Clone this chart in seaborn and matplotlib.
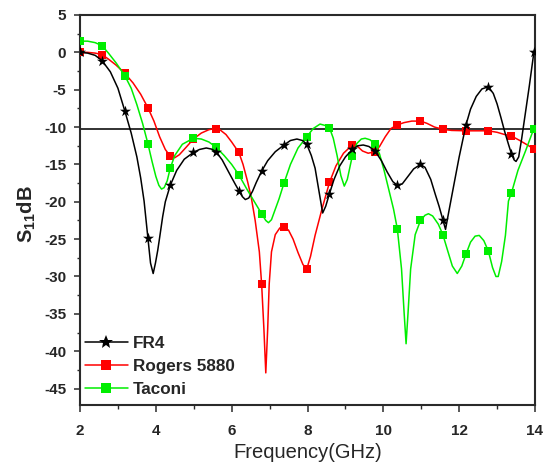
import numpy as np
import pandas as pd
import matplotlib
matplotlib.use("Agg")
import matplotlib.pyplot as plt
from matplotlib.lines import Line2D
from matplotlib.ticker import MultipleLocator
import seaborn as sns

# ---------------- data ----------------
fr4_f = [2.0, 2.2, 2.4, 2.58, 2.8, 3.0, 3.18, 3.35, 3.5, 3.6, 3.69, 3.79, 3.86, 3.93, 3.99,
         4.05, 4.1, 4.18, 4.25, 4.38, 4.55, 4.75, 4.99, 5.15, 5.33, 5.47, 5.59, 5.75, 5.95,
         6.1, 6.19, 6.28, 6.36, 6.45, 6.55, 6.65, 6.79, 6.95, 7.15, 7.38, 7.55, 7.72, 7.87,
         7.98, 8.1, 8.2, 8.3, 8.4, 8.48, 8.58, 8.7, 8.85, 9.0, 9.18, 9.33, 9.47, 9.62, 9.78,
         9.95, 10.1, 10.25, 10.37, 10.5, 10.65, 10.8, 10.98, 11.1, 11.25, 11.37, 11.47, 11.57,
         11.64, 11.72, 11.85, 12.0, 12.18, 12.3, 12.45, 12.6, 12.77, 12.9, 13.0, 13.1, 13.2,
         13.3, 13.38, 13.45, 13.5, 13.57, 13.65, 13.75, 13.85, 13.97]
fr4_db = [0.0, -0.1, -0.4, -1.1, -2.6, -4.8, -7.8, -10.8, -14.0, -16.8, -19.9, -24.8, -28.2,
          -29.6, -28.2, -26.5, -24.8, -22.0, -20.0, -17.8, -15.8, -14.3, -13.4, -13.0, -12.8,
          -12.95, -13.3, -14.4, -16.3, -17.7, -18.5, -19.3, -19.7, -19.5, -18.6, -17.4, -15.9,
          -14.5, -13.3, -12.4, -11.8, -11.6, -11.8, -12.3, -13.8, -15.5, -18.5, -21.5, -20.6,
          -18.9, -17.0, -15.2, -14.0, -13.0, -12.5, -12.4, -12.6, -13.2, -14.5, -16.0, -17.3,
          -17.8, -17.6, -16.6, -15.6, -15.0, -15.4, -17.0, -19.0, -20.6, -22.4, -23.7, -21.5,
          -18.0, -14.0, -9.7, -7.6, -5.9, -4.9, -4.6, -5.5, -6.9, -8.7, -10.6, -12.3, -13.6,
          -14.4, -14.6, -14.0, -11.5, -8.0, -4.5, 0.0]

rog_f = [2.0, 2.2, 2.4, 2.58, 2.75, 2.95, 3.18, 3.4, 3.6, 3.79, 3.95, 4.1, 4.25, 4.38, 4.5,
         4.62, 4.8, 4.99, 5.2, 5.4, 5.55, 5.7, 5.85, 6.0, 6.19, 6.3, 6.42, 6.52, 6.62, 6.73,
         6.79, 6.85, 6.9, 6.95, 6.99, 7.05, 7.15, 7.27, 7.38, 7.5, 7.62, 7.75, 7.88, 7.98,
         8.08, 8.2, 8.38, 8.58, 8.75, 8.95, 9.18, 9.3, 9.45, 9.6, 9.78, 9.9, 10.05, 10.2,
         10.37, 10.55, 10.75, 10.98, 11.15, 11.35, 11.57, 11.8, 12.18, 12.5, 12.77, 13.0,
         13.2, 13.38, 13.6, 13.8, 13.97]
rog_db = [0.0, 0.0, -0.1, -0.3, -0.9, -1.7, -2.8, -4.1, -5.6, -7.4, -9.2, -11.3, -13.0, -13.9,
          -14.1, -13.7, -12.7, -11.6, -10.8, -10.35, -10.2, -10.4, -11.0, -12.0, -13.4, -15.0,
          -17.3, -19.5, -22.5, -26.7, -31.0, -37.0, -42.9, -37.0, -31.0, -26.7, -24.4, -23.5,
          -23.4, -23.8, -25.0, -26.8, -28.4, -29.0, -27.3, -24.5, -21.0, -17.4, -15.2, -13.5,
          -12.4, -12.5, -13.2, -13.5, -13.3, -12.6, -11.3, -10.2, -9.7, -9.4, -9.2, -9.2, -9.5,
          -10.0, -10.3, -10.45, -10.5, -10.5, -10.5, -10.7, -11.0, -11.2, -11.8, -12.4, -12.9]

tac_f = [2.0, 2.2, 2.4, 2.58, 2.75, 2.95, 3.18, 3.35, 3.5, 3.65, 3.79, 3.9, 4.0, 4.08, 4.15,
         4.22, 4.3, 4.38, 4.5, 4.7, 4.99, 5.2, 5.4, 5.59, 5.8, 6.0, 6.19, 6.4, 6.6, 6.79, 6.9,
         6.97, 7.05, 7.15, 7.25, 7.38, 7.55, 7.75, 7.98, 8.15, 8.33, 8.48, 8.58, 8.68, 8.78,
         8.88, 8.97, 9.05, 9.18, 9.3, 9.42, 9.52, 9.65, 9.78, 9.9, 10.02, 10.15, 10.27, 10.37,
         10.48, 10.55, 10.6, 10.65, 10.72, 10.84, 10.98, 11.1, 11.19, 11.3, 11.45, 11.57, 11.7,
         11.82, 11.95, 12.07, 12.18, 12.3, 12.42, 12.53, 12.65, 12.77, 12.88, 12.97, 13.03,
         13.12, 13.22, 13.3, 13.38, 13.55, 13.75, 13.97]
tac_db = [1.5, 1.5, 1.3, 0.9, -0.1, -1.4, -3.1, -4.8, -7.0, -9.5, -12.2, -14.6, -16.6, -17.8,
          -18.3, -18.1, -17.2, -15.5, -13.8, -12.3, -11.5, -11.6, -12.0, -12.7, -13.8, -15.0,
          -16.4, -18.3, -20.0, -21.6, -22.5, -22.8, -22.4, -21.0, -19.6, -17.5, -15.0, -12.8,
          -11.3, -10.2, -9.6, -9.8, -10.1, -11.5, -13.8, -16.5, -17.9, -17.0, -13.9, -12.2,
          -11.6, -11.5, -11.7, -12.3, -13.6, -15.8, -18.5, -21.0, -23.65, -29.0, -35.0, -39.0,
          -35.0, -29.0, -24.4, -22.5, -21.8, -21.6, -21.9, -23.0, -24.4, -26.6, -28.6, -29.6,
          -28.6, -27.0, -25.4, -24.6, -24.5, -25.2, -26.6, -28.8, -30.0, -30.0, -28.0, -24.5,
          -19.9, -18.8, -15.8, -13.2, -10.2]

# marker positions (symbols drawn every 0.6 GHz)
mk_f = [2.0, 2.58, 3.18, 3.79, 4.38, 4.99, 5.59, 6.19, 6.79, 7.38, 7.98, 8.58, 9.18, 9.78,
        10.37, 10.98, 11.57, 12.18, 12.77, 13.38, 13.97]
fr4_mk = [0.0, -1.1, -7.8, -24.8, -17.8, -13.4, -13.3, -18.5, -15.9, -12.4, -12.3, -18.9,
          -13.0, -13.2, -17.8, -15.0, -22.4, -9.7, -4.6, -13.6, 0.0]
rog_mk = [0.0, -0.3, -2.8, -7.4, -13.9, -11.6, -10.3, -13.4, -31.0, -23.4, -29.0, -17.4,
          -12.4, -13.3, -9.7, -9.2, -10.3, -10.5, -10.5, -11.2, -12.9]
tac_mk = [1.5, 0.9, -3.1, -12.2, -15.5, -11.5, -12.7, -16.4, -21.6, -17.5, -11.3, -10.1,
          -13.9, -12.3, -23.65, -22.5, -24.4, -27.0, -26.65, -18.8, -10.2]

ref_level = -10.2
labels = ["FR4", "Rogers 5880", "Taconi"]
xticks = [2, 4, 6, 8, 10, 12, 14]
yticks = [5, 0, -5, -10, -15, -20, -25, -30, -35, -40, -45]

# ---------------- style ----------------
sns.set_style("ticks")
plt.rcParams["font.family"] = ["Liberation Sans", "DejaVu Sans"]
plt.rcParams["axes.unicode_minus"] = False
plt.rcParams["mathtext.fontset"] = "custom"
plt.rcParams["mathtext.rm"] = "Liberation Sans:bold"
plt.rcParams["mathtext.it"] = "Liberation Sans:bold"
plt.rcParams["mathtext.bf"] = "Liberation Sans:bold"

RED = "#ff0000"
GREEN = "#00ee00"
BLACK = "#000000"
SPINE = "#2a2a2a"

fig = plt.figure(figsize=(5.5, 4.72), dpi=100)
ax = fig.add_axes([80 / 550, (472 - 405) / 472, 455 / 550, 390 / 472])

lw = 1.1
sns.lineplot(x=rog_f, y=rog_db, color=RED, lw=lw, ax=ax, sort=False, estimator=None, zorder=2)
sns.scatterplot(x=mk_f, y=rog_mk, marker="s", s=36, color=RED, linewidth=0, ax=ax, zorder=3)
sns.lineplot(x=tac_f, y=tac_db, color=GREEN, lw=lw, ax=ax, sort=False, estimator=None, zorder=4)
sns.scatterplot(x=mk_f, y=tac_mk, marker="s", s=36, color=GREEN, linewidth=0, ax=ax, zorder=5)
sns.lineplot(x=fr4_f, y=fr4_db, color=BLACK, lw=lw, ax=ax, sort=False, estimator=None, zorder=6)
sns.scatterplot(x=mk_f, y=fr4_mk, marker="*", s=70, color=BLACK, linewidth=0, ax=ax, zorder=7)

ax.axhline(ref_level, color="#222222", lw=1.3, zorder=1)

ax.set_xlim(2, 14)
ax.set_ylim(-47.2, 5)
ax.set_xticks(xticks)
ax.set_yticks(yticks)
ax.xaxis.set_minor_locator(MultipleLocator(1))
ax.yaxis.set_minor_locator(MultipleLocator(2.5))

for s in ax.spines.values():
    s.set_linewidth(1.5)
    s.set_color(SPINE)

ax.tick_params(axis="x", which="major", direction="out", length=5, width=1.1,
               color=SPINE, pad=9, labelsize=11)
ax.tick_params(axis="x", which="minor", direction="out", length=3, width=1.0, color=SPINE)
ax.tick_params(axis="y", which="major", direction="out", length=4, width=1.1,
               color=SPINE, pad=6, labelsize=11)
ax.tick_params(axis="y", which="minor", direction="out", length=2.5, width=1.0, color=SPINE)
ax.tick_params(top=False, right=False, which="both")
for t in ax.get_xticklabels() + ax.get_yticklabels():
    t.set_fontweight("bold")

ax.set_xlabel("Frequency(GHz)", fontsize=14.5, labelpad=3)
ax.set_ylabel("S$_{11}$dB", fontsize=14.5, fontweight="bold")
ax.yaxis.set_label_coords(-0.092, 0.49)

handles = [
    Line2D([], [], color=BLACK, lw=lw, marker="*", markersize=10, markeredgewidth=0),
    Line2D([], [], color=RED, lw=lw, marker="s", markersize=6.5, markeredgewidth=0),
    Line2D([], [], color=GREEN, lw=lw, marker="s", markersize=6.5, markeredgewidth=0),
]
ax.legend(handles, labels, loc="lower left", bbox_to_anchor=(0.01, 0.02),
          frameon=False, borderaxespad=0, borderpad=0, handlelength=2.55,
          handletextpad=0.3, labelspacing=0.48, prop={"weight": "bold", "size": 12.3})

fig.savefig("out.png", dpi=100, facecolor="white")
